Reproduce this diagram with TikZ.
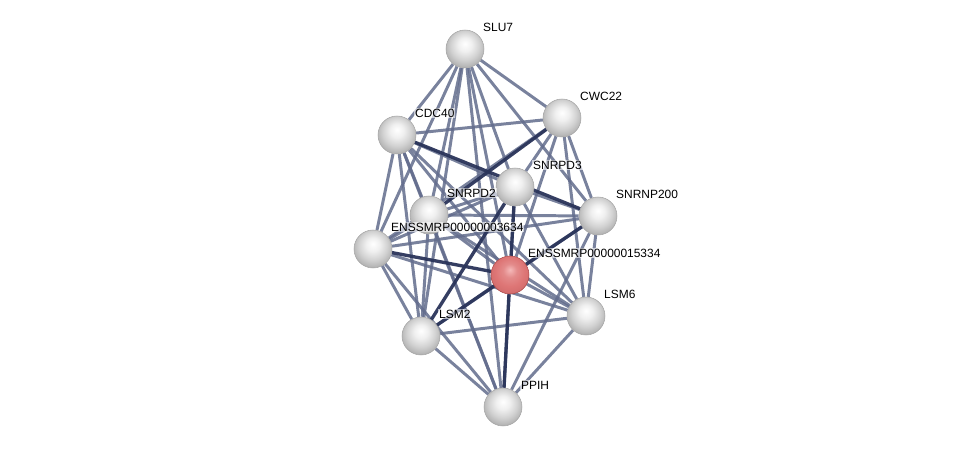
\documentclass[tikz,border=0pt]{standalone}
\usepackage{fontspec}
\setmainfont{Liberation Sans}
\usetikzlibrary{backgrounds}
\definecolor{edgelight}{RGB}{98, 108, 140}
\definecolor{edgedark}{RGB}{42, 52, 90}
\definecolor{qhigh}{RGB}{245, 185, 185}
\definecolor{qmid}{RGB}{222, 118, 118}
\definecolor{qrim}{RGB}{170, 72, 72}
\pgfdeclareradialshading{greysphere}{\pgfpoint{0bp}{7bp}}{color(0bp)=(white); color(9bp)=(white!94!black); color(19bp)=(white!82!black); color(27bp)=(white!70!black); color(31bp)=(white!55!black); color(50bp)=(white!55!black)}
\pgfdeclareradialshading{redsphere}{\pgfpoint{0bp}{7bp}}{color(0bp)=(qhigh); color(9bp)=(qmid!85!white); color(19bp)=(qmid); color(27bp)=(qmid!80!qrim); color(31bp)=(qrim); color(50bp)=(qrim)}

\begin{document}
\begin{tikzpicture}[x=0.2mm,y=-0.2mm,
  protein/.style={circle, minimum size=7.6mm, inner sep=0pt, shading=greysphere, draw=black!35, line width=0.3pt},
  qprotein/.style={protein, shading=redsphere, draw=qrim},
  plabel/.style={anchor=west, inner sep=0.5pt, font=\fontsize{6.8}{7}\selectfont, fill=white, fill opacity=0.6, text opacity=1},
  weak/.style={edgelight, line width=1.7pt, opacity=0.85},
  strong/.style={edgedark, line width=1.9pt, opacity=0.95}]
\useasboundingbox (0,0) rectangle (975,453);
% Proteins
\node[protein] (slu7) at (465,49) {};
\node[protein] (cwc22) at (562,118) {};
\node[protein] (cdc40) at (397,135) {};
\node[protein] (snrpd3) at (515,187) {};
\node[protein] (snrpd2) at (429,215) {};
\node[protein] (snrnp200) at (598,216) {};
\node[protein] (smrp3634) at (373,249) {};
\node[qprotein] (smrp15334) at (510,275) {};
\node[protein] (lsm6) at (586,316) {};
\node[protein] (lsm2) at (421,336) {};
\node[protein] (ppih) at (503,407) {};
% Labels
\foreach \p/\t in {slu7/SLU7, cwc22/CWC22, cdc40/CDC40, snrpd3/SNRPD3, snrpd2/SNRPD2,
  snrnp200/SNRNP200, smrp3634/ENSSMRP00000003634, smrp15334/ENSSMRP00000015334,
  lsm6/LSM6, lsm2/LSM2, ppih/PPIH}
  \node[plabel] (\p-lab) at ([xshift=3.4mm,yshift=4.4mm]\p.center) {\t};
% Interactions
\begin{scope}[on background layer]
\foreach \a/\b in {slu7/cdc40, slu7/cwc22, slu7/smrp3634, slu7/snrpd2, slu7/snrpd3,
  slu7/smrp15334, slu7/snrnp200, slu7/lsm2, slu7/ppih,
  cdc40/cwc22, cdc40/smrp3634, cdc40/snrpd2, cdc40/lsm2, cdc40/smrp15334, cdc40/ppih, cdc40/lsm6,
  cwc22/snrpd3, cwc22/smrp15334, cwc22/snrnp200, cwc22/lsm6, cwc22/smrp3634,
  snrpd3/snrpd2, snrpd3/smrp3634, snrpd3/snrnp200, snrpd3/lsm6, snrpd3/ppih,
  snrpd2/smrp3634, snrpd2/snrnp200, snrpd2/smrp15334, snrpd2/lsm2, snrpd2/lsm6, snrpd2/ppih,
  snrnp200/smrp3634, snrnp200/lsm6, snrnp200/ppih, snrnp200/lsm2,
  smrp3634/lsm2, smrp3634/lsm6, smrp3634/ppih,
  smrp15334/lsm6, lsm6/lsm2, lsm6/ppih, lsm2/ppih, cdc40/snrpd3}
  \draw[weak] (\a) -- (\b);
\foreach \a/\b in {smrp15334/ppih, smrp15334/snrnp200, smrp15334/lsm2, cdc40/snrnp200,
  cwc22/snrpd2, snrpd3/lsm2, snrpd3/smrp15334, smrp3634/smrp15334}
  \draw[strong] (\a) -- (\b);
\end{scope}
\end{tikzpicture}
\end{document}
